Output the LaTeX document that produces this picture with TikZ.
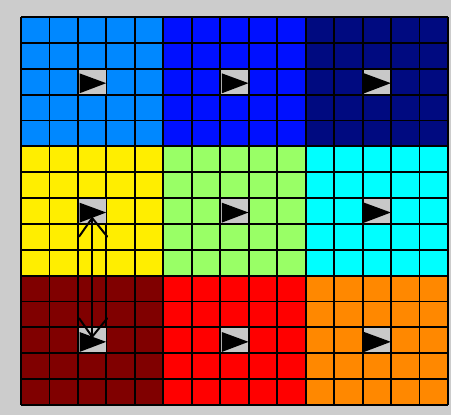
\documentclass[tikz,border=0pt]{standalone}
\definecolor{bg}{RGB}{204,204,204}
\definecolor{glyphbg}{RGB}{200,200,200}
\definecolor{cLB}{RGB}{0,136,255}
\definecolor{cBL}{RGB}{0,16,255}
\definecolor{cNV}{RGB}{0,10,128}
\definecolor{cYE}{RGB}{255,238,0}
\definecolor{cGR}{RGB}{153,255,102}
\definecolor{cCY}{RGB}{0,255,255}
\definecolor{cDR}{RGB}{128,0,0}
\definecolor{cRD}{RGB}{255,0,0}
\definecolor{cOR}{RGB}{255,136,0}
\tikzset{
  gridline/.style={draw=black, line width=1.4pt},
  glyph/.style={fill=glyphbg, inner sep=0pt, minimum width=20pt, minimum height=18pt},
  pointer/.style={fill=black},
  conn/.style={draw=black, line width=1.5pt, line cap=round}
}
\begin{document}
\begin{tikzpicture}[x=0.75pt,y=-0.75pt]
\useasboundingbox (0,0) rectangle (451,415);
\fill[bg] (0,0) rectangle (451,415);
% colour blocks
\foreach \r/\c/\col in {0/0/cLB,0/1/cBL,0/2/cNV,1/0/cYE,1/1/cGR,1/2/cCY,2/0/cDR,2/1/cRD,2/2/cOR}
  \fill[\col] (21+\c*142.3333,17+\r*129.3333) rectangle ++(142.3333,129.3333);
% grid
\foreach \i in {0,...,15} {
  \draw[gridline] (21+\i*28.4667,17) -- (21+\i*28.4667,405);
  \draw[gridline] (21,17+\i*25.8667) -- (448,17+\i*25.8667);
}
% pointer cells
\foreach \r in {0,1,2} {
  \foreach \c in {0,1,2} {
    \node[glyph] (g\r\c) at (21+\c*142.3333+2.5*28.4667, 17+\r*129.3333+2.5*25.8667) {};
    \fill[pointer] ([shift={(-12.6,-8.3)}]g\r\c.center) -- ([shift={(-12.6,11.6)}]g\r\c.center) -- ([shift={(14,1.5)}]g\r\c.center) -- cycle;
  }
}
% connector (double-headed, open barbs)
\draw[conn] ([shift={(0,7)}]g10.center) -- ([shift={(0,-3.6)}]g20.center);
\draw[conn] ([shift={(-13,25.5)}]g10.center) -- ([shift={(0,7)}]g10.center) -- ([shift={(15,25.5)}]g10.center);
\draw[conn] ([shift={(-13,-22)}]g20.center) -- ([shift={(0,-3.6)}]g20.center) -- ([shift={(15,-22)}]g20.center);
\end{tikzpicture}
\end{document}
